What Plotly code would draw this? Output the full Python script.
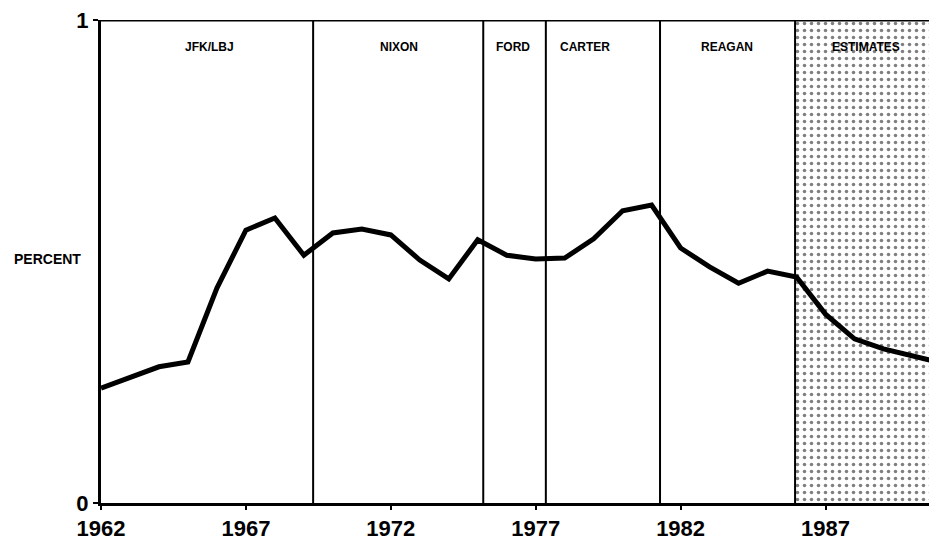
import plotly.graph_objects as go

years = list(range(1962, 1992))
percent = [0.238, 0.261, 0.282, 0.292, 0.445, 0.565, 0.590, 0.513, 0.559, 0.567,
           0.555, 0.503, 0.464, 0.545, 0.513, 0.505, 0.507, 0.547, 0.605, 0.617,
           0.528, 0.489, 0.455, 0.480, 0.468, 0.391, 0.340, 0.319, 0.304, 0.290]

term_boundaries = [1969.32, 1975.19, 1977.35, 1981.29]
term_labels = ["JFK/LBJ", "NIXON", "FORD", "CARTER", "REAGAN", "ESTIMATES"]
label_x = [1965.76, 1972.3, 1976.2, 1978.7, 1983.6, 1988.4]
estimates_start = 1985.95
estimates_end = 1991.5

x_ticks = [1962, 1967, 1972, 1977, 1982, 1987]
y_ticks = [0, 1]

FONT = "Liberation Sans, Arial, sans-serif"

fig = go.Figure()

# shaded estimates region
fig.add_trace(go.Scatter(
    x=[estimates_start, estimates_end, estimates_end, estimates_start, estimates_start],
    y=[0, 0, 1, 1, 0],
    mode="lines", line=dict(width=0), fill="toself",
    fillcolor="white",
    fillpattern=dict(shape=".", fgcolor="black", bgcolor="white", size=7, solidity=0.2),
    hoverinfo="skip", showlegend=False,
))

fig.add_trace(go.Scatter(
    x=years, y=percent, mode="lines",
    line=dict(color="black", width=5),
    showlegend=False,
))

for xb in term_boundaries + [estimates_start]:
    fig.add_shape(type="line", x0=xb, x1=xb, y0=0, y1=1, xref="x", yref="y",
                  line=dict(color="black", width=2), layer="above")

for lab, lx in zip(term_labels, label_x):
    fig.add_annotation(x=lx, y=0.945, xref="x", yref="y", text="<b>%s</b>" % lab,
                       showarrow=False, font=dict(family=FONT, size=12, color="black"))

fig.add_annotation(x=-0.0634, y=0.505, xref="paper", yref="paper", text="<b>PERCENT</b>",
                   showarrow=False, xanchor="center",
                   font=dict(family=FONT, size=14, color="black"))

# top border
fig.add_shape(type="line", x0=0, x1=1, y0=1, y1=1, xref="paper", yref="y",
              line=dict(color="black", width=3), layer="above")

fig.update_layout(
    width=929, height=532,
    margin=dict(l=93, r=0, t=12, b=37, autoexpand=False),
    paper_bgcolor="white", plot_bgcolor="white",
    font=dict(family=FONT, color="black"),
    xaxis=dict(range=[1962, 1962 + 836 / 28.98], tickvals=x_ticks,
               ticktext=["<b>%d</b>" % t for t in x_ticks], automargin=False,
               ticklabeloverflow="allow",
               showgrid=False, zeroline=False, showline=True, linecolor="black",
               linewidth=3, ticks="outside", ticklen=4, tickwidth=2, tickcolor="black",
               tickfont=dict(family=FONT, size=22, color="black")),
    yaxis=dict(range=[0, 1], tickvals=y_ticks,
               ticktext=["<b>%d</b>" % t for t in y_ticks], automargin=False,
               ticklabeloverflow="allow",
               showgrid=False, zeroline=False, showline=True, linecolor="black",
               linewidth=3, ticks="outside", ticklen=5, tickwidth=2, tickcolor="black",
               tickfont=dict(family=FONT, size=22, color="black")),
)

fig.write_html("out.html")
